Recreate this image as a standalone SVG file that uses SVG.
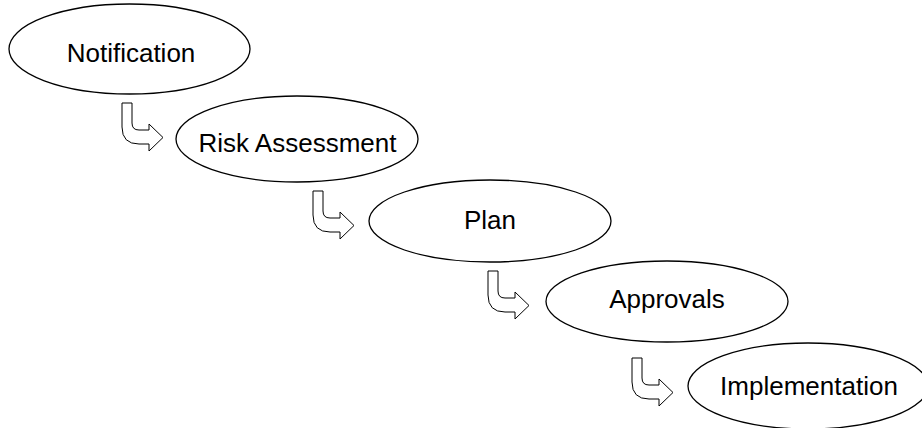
<svg xmlns="http://www.w3.org/2000/svg" width="922" height="428" viewBox="0 0 922 428">
<style>
.n ellipse{fill:#fff;stroke:#000;stroke-width:1.3}
.n text{font-family:"Liberation Sans",Arial,sans-serif;font-size:26px;fill:#000;text-anchor:middle}
.a{fill:#fff;stroke:#000;stroke-width:1}
</style>
<defs>
<path id="bent" d="M0,0 L10,0 L10,20 Q10,27 17,27 L27,27 L27,21 L41,34.5 L27,48 L27,41 L17,41 Q0,41 0,24 Z"/>
</defs>
<rect width="922" height="428" fill="#fff"/>
<g id="connectors">
<use href="#bent" class="a" x="122" y="103"/>
<use href="#bent" class="a" x="313" y="191"/>
<use href="#bent" class="a" x="488" y="271"/>
<use href="#bent" class="a" x="632" y="358"/>
</g>
<g id="n1" class="n"><ellipse cx="129.5" cy="49" rx="120.5" ry="45"/><text x="131" y="62">Notification</text></g>
<g id="n2" class="n"><ellipse cx="297" cy="139" rx="121" ry="43"/><text x="297.5" y="152">Risk Assessment</text></g>
<g id="n3" class="n"><ellipse cx="490" cy="221" rx="121" ry="41"/><text x="490" y="229">Plan</text></g>
<g id="n4" class="n"><ellipse cx="667" cy="301.5" rx="121" ry="40.5"/><text x="667" y="308">Approvals</text></g>
<g id="n5" class="n"><ellipse cx="808" cy="386" rx="120" ry="43"/><text x="809" y="395">Implementation</text></g>
</svg>
